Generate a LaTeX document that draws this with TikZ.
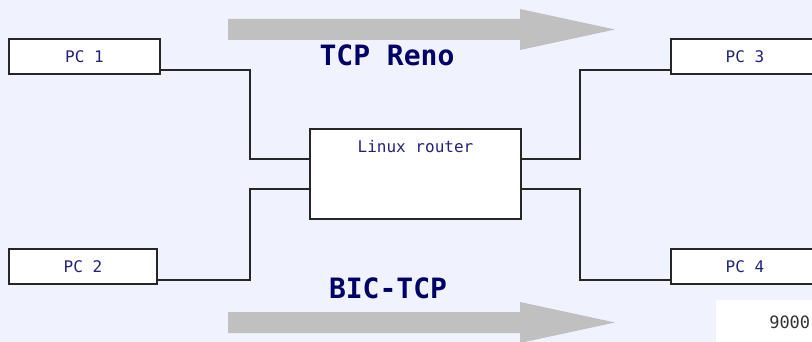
\documentclass[tikz,border=0pt]{standalone}
\usepackage{fontspec}
\setmonofont{DejaVu Sans Mono}
\definecolor{bgblue}{HTML}{F0F2FE}
\definecolor{labelblue}{HTML}{22227A}
\definecolor{titleblue}{HTML}{000066}
\definecolor{flowgray}{HTML}{C0C0C0}
\begin{document}
\begin{tikzpicture}[x=1pt, y=-1pt,
    pcbox/.style={draw=black!85, line width=1.2pt, fill=white, minimum height=35pt,
      inner sep=0pt, outer sep=0pt, font=\ttfamily\fontsize{16}{16}\selectfont, text=labelblue},
    wire/.style={draw=black!85, line width=1.2pt},
    flowlabel/.style={font=\ttfamily\bfseries\fontsize{28}{28}\selectfont, text=titleblue},
    flowarrow/.style={fill=flowgray}]
  % background
  \fill[bgblue] (0,0) rectangle (812,342);
  \useasboundingbox (0,0) rectangle (812,342);
  \clip (0,0) rectangle (812,342);
  % flow arrows (drawn first, labels sit under them)
  \fill[flowarrow] (228,19) -- (520,19) -- (520,9) -- (615,29.5) -- (520,50) -- (520,40) -- (228,40) -- cycle;
  \fill[flowarrow] (228,312) -- (520,312) -- (520,302) -- (615,322.5) -- (520,343) -- (520,333) -- (228,333) -- cycle;
  \node[flowlabel] (reno) at (387,55) {TCP Reno};
  \node[flowlabel] (bic) at (388,288) {BIC-TCP};
  % hosts
  \node[pcbox, minimum width=151pt] (pc1) at (84.5,56.5) {PC 1};
  \node[pcbox, minimum width=148pt] (pc2) at (83,266.5) {PC 2};
  \node[pcbox, minimum width=148pt] (pc3) at (745,56.5) {PC 3};
  \node[pcbox, minimum width=148pt] (pc4) at (745,266.5) {PC 4};
  % router in the middle
  \node[pcbox, minimum width=211pt, minimum height=90pt] (router) at (415.5,174) {};
  \node[font=\ttfamily\fontsize{16}{16}\selectfont, text=labelblue] (routerlbl)
    at ([yshift=-18pt]router.north) {Linux router};
  % links
  \draw[wire] ([yshift=-13.5pt]pc1.east) -| ([xshift=-60pt,yshift=15pt]router.west) -- ([yshift=15pt]router.west);
  \draw[wire] ([yshift=-13.5pt]pc2.east) -| ([xshift=-60pt,yshift=-15pt]router.west) -- ([yshift=-15pt]router.west);
  \draw[wire] ([yshift=15pt]router.east) -| ([xshift=-91pt,yshift=-13.5pt]pc3.west) -- ([yshift=-13.5pt]pc3.west);
  \draw[wire] ([yshift=-15pt]router.east) -| ([xshift=-91pt,yshift=-13.5pt]pc4.west) -- ([yshift=-13.5pt]pc4.west);
  % port number, lower right corner
  \node[fill=white, anchor=north west, minimum width=100pt, minimum height=44pt, text width=88pt,
    inner xsep=4pt, align=right, font=\ttfamily\fontsize{17}{17}\selectfont, text=black!80] (port)
    at (716,300) {9000};
\end{tikzpicture}
\end{document}
